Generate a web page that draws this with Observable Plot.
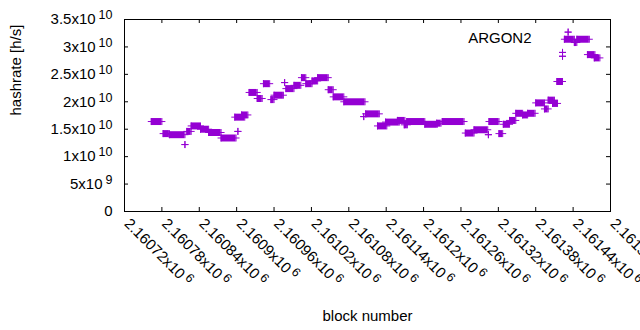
<!DOCTYPE html>
<html><head><meta charset="utf-8">
<script src="https://cdn.jsdelivr.net/npm/d3@7"></script>
<script src="https://cdn.jsdelivr.net/npm/@observablehq/plot@0.6"></script>
<style>
body{margin:0;background:#fff}
#chart svg text{font-family:"Liberation Sans",Arial,sans-serif}
</style>
</head><body><div id="chart"></div>
<script>
// Runs of consecutive blocks sharing the same hashrate (start block, end block, hashrate in h/s)
const runStart = [2160763,2160782,2160792,2160817,2160820,2160827,2160842,2160855,2160875,2160902,
  2160897,2160908,2160920,2160933,2160943,2160955,2160960,2160977,2160979,2160992,
  2161004,2161011,2161021,2161030,2161047,2161055,2161072,2161104,2161107,2161126,
  2161139,2161158,2161169,2161173,2161202,2161221,2161230,2161267,2161281,2161304,
  2161305,2161321,2161328,2161338,2161348,2161359,2161367,2161380,2161394,2161400,
  2161407,2161414,2161423,2161423,2161426,2161432,2161442,2161446,2161463,2161474];
const runEnd = [2160780,2160792,2160817,2160817,2160827,2160842,2160855,2160875,2160899,2160902,
  2160913,2160918,2160933,2160941,2160953,2160960,2160975,2160977,2160992,2161003,
  2161011,2161021,2161030,2161047,2161055,2161072,2161106,2161104,2161129,2161141,
  2161161,2161170,2161174,2161202,2161222,2161228,2161265,2161281,2161303,2161304,
  2161321,2161327,2161338,2161348,2161359,2161367,2161379,2161394,2161400,2161410,
  2161415,2161423,2161423,2161423,2161442,2161432,2161446,2161466,2161475,2161483];
const runValue = [1.64e10,1.42e10,1.40e10,1.22e10,1.46e10,1.56e10,1.50e10,1.44e10,1.34e10,1.46e10,
  1.72e10,1.76e10,2.17e10,2.06e10,2.33e10,2.04e10,2.12e10,2.35e10,2.24e10,2.30e10,
  2.44e10,2.33e10,2.38e10,2.44e10,2.22e10,2.09e10,2.00e10,1.73e10,1.78e10,1.56e10,
  1.63e10,1.66e10,1.58e10,1.64e10,1.59e10,1.61e10,1.64e10,1.43e10,1.49e10,1.40e10,
  1.64e10,1.42e10,1.59e10,1.66e10,1.79e10,1.76e10,1.79e10,1.98e10,1.87e10,2.03e10,
  1.97e10,2.37e10,2.90e10,2.83e10,3.14e10,3.27e10,3.08e10,3.14e10,2.86e10,2.80e10];

const yTicks = [0,5e9,1e10,1.5e10,2e10,2.5e10,3e10,3.5e10];
const yTickLabels = ["0","5x10^9","1x10^10","1.5x10^10","2x10^10","2.5x10^10","3x10^10","3.5x10^10"];
const xTicks = [2160720,2160780,2160840,2160900,2160960,2161020,2161080,2161140,2161200,2161260,2161320,2161380,2161440,2161500];
const xTickLabels = ["2.16072x10^6","2.16078x10^6","2.16084x10^6","2.1609x10^6","2.16096x10^6","2.16102x10^6","2.16108x10^6","2.16114x10^6","2.1612x10^6","2.16126x10^6","2.16132x10^6","2.16138x10^6","2.16144x10^6","2.1615x10^6"];
const seriesName = "ARGON2";
const xLabel = "block number";
const yLabel = "hashrate [h/s]";

const color = "#9400d3";
const runs = runStart.map((s, i) => ({start: s, end: runEnd[i], value: runValue[i]}));
const points = runs.flatMap(r => [{x: r.start, y: r.value}, {x: r.end, y: r.value}]);

const plusSymbol = {
  draw(context) {
    const r = 3.5;
    context.moveTo(-r, 0); context.lineTo(r, 0);
    context.moveTo(0, -r); context.lineTo(0, r);
  }
};

const W = 640, H = 330, mL = 124, mR = 30, mT = 19, mB = 119;
const pw = W - mL - mR, ph = H - mT - mB;

const chart = Plot.plot({
  width: W, height: H,
  marginLeft: mL, marginRight: mR, marginTop: mT, marginBottom: mB,
  x: {domain: [2160720, 2161500], axis: null},
  y: {domain: [0, 3.5e10], axis: null},
  marks: [
    Plot.ruleY(runs, {x1: "start", x2: "end", y: "value", stroke: color, strokeWidth: 7}),
    Plot.dot(points, {x: "x", y: "y", symbol: plusSymbol, stroke: color, strokeWidth: 1, r: 3}),
    Plot.ruleY(yTicks, {stroke: "black", insetRight: pw - 4}),
    Plot.ruleY(yTicks, {stroke: "black", insetLeft: pw - 4}),
    Plot.ruleX(xTicks, {stroke: "black", insetBottom: ph - 4}),
    Plot.ruleX(xTicks, {stroke: "black", insetTop: ph - 4}),
    Plot.frame({stroke: "black"}),
    Plot.text(yTicks, {y: d => d, text: (d, i) => yTickLabels[i], frameAnchor: "left", dx: -12, textAnchor: "end", fontSize: 15, fill: "black"}),
    Plot.text(xTicks, {x: d => d, text: (d, i) => xTickLabels[i], frameAnchor: "bottom", rotate: 45, textAnchor: "start", dx: -1, dy: 13, fontSize: 15, fill: "black"}),
    Plot.text([yLabel], {text: d => d, frameAnchor: "left", dx: -108, rotate: -90, fontSize: 15, fill: "black"}),
    Plot.text([xLabel], {text: d => d, frameAnchor: "bottom", dy: 109, fontSize: 15, fill: "black"}),
    Plot.text([seriesName], {text: d => d, frameAnchor: "top-right", dx: -79, dy: 12.5, textAnchor: "end", fontSize: 15, fill: "black"})
  ]
});

const ns = "http://www.w3.org/2000/svg";
chart.querySelectorAll("text").forEach(t => {
  const s = t.textContent;
  if (!s.includes("^")) return;
  const [base, sup] = s.split("^");
  while (t.firstChild) t.removeChild(t.firstChild);
  const a = document.createElementNS(ns, "tspan");
  a.textContent = base;
  t.appendChild(a);
  const b = document.createElementNS(ns, "tspan");
  b.textContent = sup;
  b.setAttribute("dx", "3");
  b.setAttribute("dy", "-5");
  b.setAttribute("font-size", "12.5");
  t.appendChild(b);
});
document.getElementById("chart").appendChild(chart);
</script>
</body></html>
